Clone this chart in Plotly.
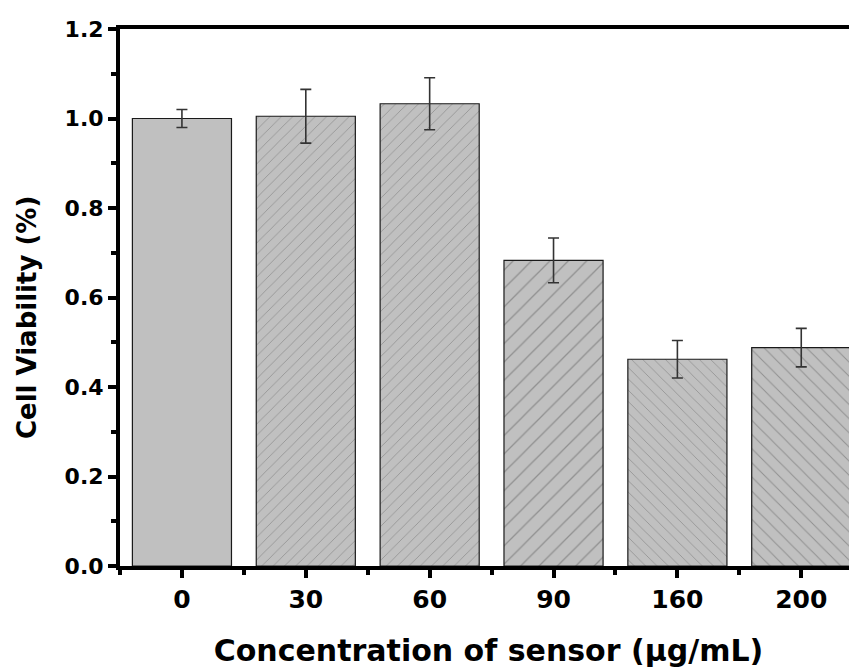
import plotly.graph_objects as go

categories = ["0", "30", "60", "90", "160", "200"]
viability = [1.0, 1.005, 1.033, 0.683, 0.462, 0.488]
errors = [0.02, 0.06, 0.058, 0.05, 0.042, 0.043]
pattern_shapes = ["", "/", "/", "/", "\\", "\\"]
pattern_sizes = [8, 8, 8, 13, 8, 10]
y_ticks = [0, 0.2, 0.4, 0.6, 0.8, 1.0, 1.2]
y_minor = [0.1, 0.3, 0.5, 0.7, 0.9, 1.1]

xpos = list(range(len(categories)))

fig = go.Figure()
fig.add_trace(go.Bar(
    x=xpos, y=viability, width=0.8,
    marker=dict(
        color="#c0c0c0",
        line=dict(color="#1a1a1a", width=1.2),
        pattern=dict(shape=pattern_shapes, size=pattern_sizes, solidity=0.1,
                     fgcolor="#606060", fillmode="overlay"),
    ),
    error_y=dict(type="data", array=errors, visible=True, color="#333333",
                 thickness=1.6, width=5.5),
    showlegend=False,
))

font_family = "DejaVu Sans, Liberation Sans, sans-serif"
fig.update_layout(
    width=857, height=668,
    margin=dict(l=112, r=8, t=21, b=110),
    plot_bgcolor="white", paper_bgcolor="white",
    font=dict(family=font_family, color="black"),
)
fig.update_xaxes(
    range=[-0.5, 5.45], automargin=False,
    tickmode="array", tickvals=xpos, ticktext=[f"<b>{c}</b>" for c in categories],
    tickfont=dict(size=25, family=font_family),
    ticks="outside", ticklen=8, tickwidth=4, tickcolor="black",
    minor=dict(tickvals=[i + 0.5 for i in range(-1, len(categories))],
               ticks="outside", ticklen=5, tickwidth=4, tickcolor="black"),
    showline=True, linewidth=4, linecolor="black", mirror=True,
    showgrid=False, zeroline=False,
    title=dict(text="<b>Concentration of sensor (μg/mL)</b>",
               font=dict(size=30, family=font_family), standoff=28),
)
fig.update_yaxes(
    range=[0, 1.2], automargin=False, tickmode="array",
    tickvals=y_ticks,
    ticktext=[f"<b>{v:.1f}</b>" for v in y_ticks],
    tickfont=dict(size=22, family=font_family),
    ticks="outside", ticklen=8, tickwidth=4, tickcolor="black",
    minor=dict(tickvals=y_minor,
               ticks="outside", ticklen=5, tickwidth=4, tickcolor="black"),
    showline=True, linewidth=4, linecolor="black",
    showgrid=False, zeroline=False,
)
fig.add_annotation(
    text="<b>Cell Viability (%)</b>", textangle=-90,
    xref="paper", yref="paper", x=-0.126, y=0.462,
    xanchor="center", yanchor="middle", showarrow=False,
    font=dict(size=26, family=font_family, color="black"),
)

fig.write_html("out.html")
